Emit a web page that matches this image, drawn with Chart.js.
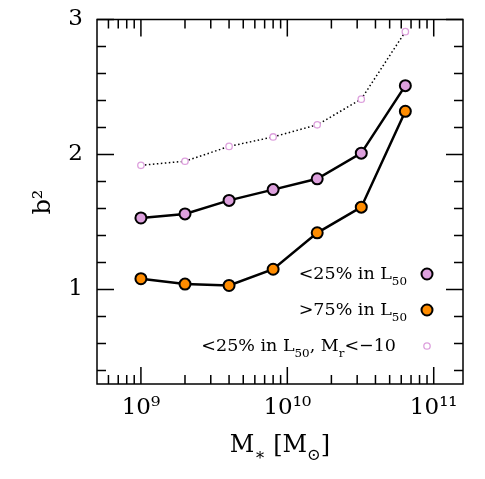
<!DOCTYPE html>
<html>
<head>
<meta charset="utf-8">
<script src="https://cdn.jsdelivr.net/npm/chart.js@4"></script>
<style>
  body { margin: 0; background: #fff; }
  #wrap { width: 485px; height: 479px; }
</style>
</head>
<body>
<div id="wrap"><canvas id="c"></canvas></div>
<script>
const masses = [1e9, 2e9, 4e9, 8e9, 1.6e10, 3.2e10, 6.4e10];
const lowBulge = [1.53, 1.56, 1.66, 1.74, 1.82, 2.01, 2.51];
const highBulge = [1.08, 1.04, 1.03, 1.15, 1.42, 1.61, 2.32];
const lowBulgeBright = [1.92, 1.95, 2.06, 2.13, 2.22, 2.41, 2.91];
const xTicks = [1e9, 1e10, 1e11];
const xTickLabels = ['10⁹', '10¹⁰', '10¹¹'];
const yTicks = [1, 2, 3];

const FONT = '"DejaVu Serif", serif';
const PLUM = '#dda0dd';
const ORANGE = '#ff8c00';

function pts(ys) {
  return masses.map((m, i) => ({ x: m, y: ys[i] }));
}

// draws text pieces, some of them as subscripts
function drawParts(ctx, parts, xRight, y, size) {
  let w = 0;
  parts.forEach(p => {
    ctx.font = `${p.sub ? size * 0.68 : size}px ${FONT}`;
    w += ctx.measureText(p.t).width;
  });
  let x = xRight - w;
  parts.forEach(p => {
    ctx.font = `${p.sub ? size * 0.68 : size}px ${FONT}`;
    ctx.fillText(p.t, x, y + (p.sub ? size * 0.35 : 0));
    x += ctx.measureText(p.t).width;
  });
}

const frame = {
  id: 'frame',
  afterDraw(chart) {
    const { ctx, chartArea: a, scales } = chart;
    const xs = scales.x, ys = scales.y;
    ctx.save();
    ctx.strokeStyle = '#000';
    ctx.fillStyle = '#000';
    ctx.lineWidth = 1.5;
    ctx.strokeRect(a.left, a.top, a.right - a.left, a.bottom - a.top);

    // x ticks, inside, top and bottom
    for (let e = 8; e <= 11; e++) {
      for (let k = 1; k <= 9; k++) {
        const v = k * Math.pow(10, e);
        if (v < xs.min || v > xs.max) continue;
        const px = xs.getPixelForValue(v);
        const len = k === 1 ? 17 : 9;
        ctx.beginPath();
        ctx.moveTo(px, a.bottom); ctx.lineTo(px, a.bottom - len);
        ctx.moveTo(px, a.top); ctx.lineTo(px, a.top + len);
        ctx.stroke();
      }
    }
    // y ticks every 0.2
    for (let i = 2; i <= 15; i++) {
      const v = i * 0.2;
      const py = ys.getPixelForValue(v);
      const major = Math.abs(v - Math.round(v)) < 1e-6;
      const len = major ? 17 : 9;
      ctx.beginPath();
      ctx.moveTo(a.left, py); ctx.lineTo(a.left + len, py);
      ctx.moveTo(a.right, py); ctx.lineTo(a.right - len, py);
      ctx.stroke();
    }

    // axis titles
    ctx.textBaseline = 'alphabetic';
    ctx.save();
    ctx.translate(50, 202);
    ctx.rotate(-Math.PI / 2);
    ctx.textAlign = 'center';
    ctx.font = `24px ${FONT}`;
    ctx.fillText('b²', 0, 0);
    ctx.restore();

    ctx.textAlign = 'left';
    const title = [
      { t: 'M' }, { t: '∗', sub: true }, { t: ' [M' }, { t: '⊙', sub: true }, { t: ']' }
    ];
    let tw = 0;
    title.forEach(p => {
      ctx.font = `${p.sub ? 24 * 0.68 : 24}px ${FONT}`;
      tw += ctx.measureText(p.t).width;
    });
    drawParts(ctx, title, 280 + tw / 2, 452, 24);

    // legend
    const rows = [
      { parts: [{ t: '<25% in L' }, { t: '50', sub: true }], y: 279, right: 407, r: 5.5, fill: PLUM, stroke: '#000', lw: 2 },
      { parts: [{ t: '>75% in L' }, { t: '50', sub: true }], y: 315, right: 407, r: 5.5, fill: ORANGE, stroke: '#000', lw: 2 },
      { parts: [{ t: '<25% in L' }, { t: '50', sub: true }, { t: ', M' }, { t: 'r', sub: true }, { t: '<−10' }], y: 351, right: 396, r: 3.2, fill: '#fff', stroke: PLUM, lw: 1.3 }
    ];
    rows.forEach(row => {
      ctx.fillStyle = '#000';
      drawParts(ctx, row.parts, row.right, row.y, 17.5);
      ctx.beginPath();
      ctx.arc(427, row.y - 5, row.r, 0, Math.PI * 2);
      ctx.fillStyle = row.fill;
      ctx.fill();
      ctx.lineWidth = row.lw;
      ctx.strokeStyle = row.stroke;
      ctx.stroke();
    });
    ctx.restore();
  }
};

new Chart(document.getElementById('c'), {
  type: 'line',
  data: {
    datasets: [
      {
        label: '<25% in L50',
        data: pts(lowBulge),
        borderColor: '#000', borderWidth: 2.5,
        pointRadius: 5.5, pointBackgroundColor: PLUM,
        pointBorderColor: '#000', pointBorderWidth: 2
      },
      {
        label: '>75% in L50',
        data: pts(highBulge),
        borderColor: '#000', borderWidth: 2.5,
        pointRadius: 5.5, pointBackgroundColor: ORANGE,
        pointBorderColor: '#000', pointBorderWidth: 2
      },
      {
        label: '<25% in L50, Mr<-10',
        data: pts(lowBulgeBright),
        borderColor: '#000', borderWidth: 1.5, borderDash: [1.5, 2.5],
        pointRadius: 3.2, pointBackgroundColor: '#fff',
        pointBorderColor: PLUM, pointBorderWidth: 1.3
      }
    ]
  },
  options: {
    responsive: true,
    maintainAspectRatio: false,
    animation: false,
    clip: false,
    layout: { padding: { top: 19.5, right: 22, left: 0, bottom: 0 } },
    plugins: { legend: { display: false }, tooltip: { enabled: false } },
    scales: {
      x: {
        type: 'logarithmic',
        min: Math.pow(10, 8.7),
        max: Math.pow(10, 11.2),
        afterBuildTicks: s => { s.ticks = xTicks.map(v => ({ value: v })); },
        afterFit: s => { s.height = 95; s.paddingLeft = 0; s.paddingRight = 0; },
        grid: { display: false, drawTicks: false },
        border: { display: false },
        ticks: {
          autoSkip: false, maxRotation: 0, padding: 10,
          color: '#000', font: { family: FONT, size: 23 },
          callback: (v) => xTickLabels[xTicks.indexOf(v)] ?? ''
        }
      },
      y: {
        min: 0.3,
        max: 3,
        afterBuildTicks: s => { s.ticks = yTicks.map(v => ({ value: v })); },
        afterFit: s => { s.width = 97; s.paddingTop = 0; s.paddingBottom = 0; },
        grid: { display: false, drawTicks: false },
        border: { display: false },
        ticks: {
          padding: 14,
          color: '#000', font: { family: FONT, size: 23 }
        }
      }
    }
  },
  plugins: [frame]
});
</script>
</body>
</html>
